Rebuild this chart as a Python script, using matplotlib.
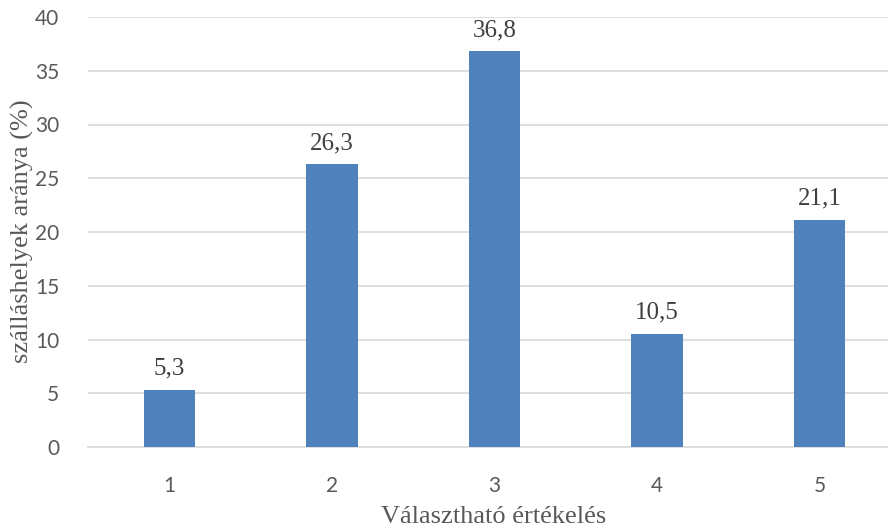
import matplotlib
matplotlib.use("Agg")
import matplotlib.pyplot as plt

categories = ["1", "2", "3", "4", "5"]
values = [5.3, 26.3, 36.8, 10.5, 21.1]
value_labels = ["5,3", "26,3", "36,8", "10,5", "21,1"]
yticks = [0, 5, 10, 15, 20, 25, 30, 35, 40]

W, H = 888, 529
fig = plt.figure(figsize=(W / 100, H / 100), dpi=100)
left = 88.25 / W
width = 812.5 / W
bottom = 82 / H
height = 430 / H
ax = fig.add_axes([left, bottom, width, height])

x = list(range(len(categories)))
ax.bar(x, values, width=0.314, color="#4F81BD", zorder=3)
ax.set_xlim(-0.5, len(categories) - 0.5)
ax.set_ylim(0, 40)
ax.set_yticks(yticks)
ax.set_xticks(x)
ax.set_xticklabels(categories)

for s in ["top", "right", "left"]:
    ax.spines[s].set_visible(False)
ax.spines["bottom"].set_color("#D9D9D9")
ax.spines["bottom"].set_linewidth(1.2)
ax.yaxis.grid(True, color="#D9D9D9", linewidth=1.2, zorder=0)
ax.tick_params(axis="both", length=0, labelsize=15, labelcolor="#595959")
ax.tick_params(axis="y", pad=21)
ax.tick_params(axis="x", pad=21)
for lab in ax.get_xticklabels() + ax.get_yticklabels():
    lab.set_fontfamily("Lato")

for xi, v, t in zip(x, values, value_labels):
    ax.annotate(t, (xi, v), xytext=(0, 11), textcoords="offset points",
                ha="center", va="baseline", fontsize=18, family="Liberation Serif",
                color="#404040")

fig.text(22 / W, 1 - 231 / H, "szálláshelyek aránya (%)", rotation=90,
         ha="center", va="center", fontsize=19, family="Liberation Serif", color="#595959")
fig.text(494 / W, 1 - 523 / H, "Választható értékelés",
         ha="center", va="baseline", fontsize=19, family="Liberation Serif", color="#595959")

fig.savefig("out.png", dpi=100)
